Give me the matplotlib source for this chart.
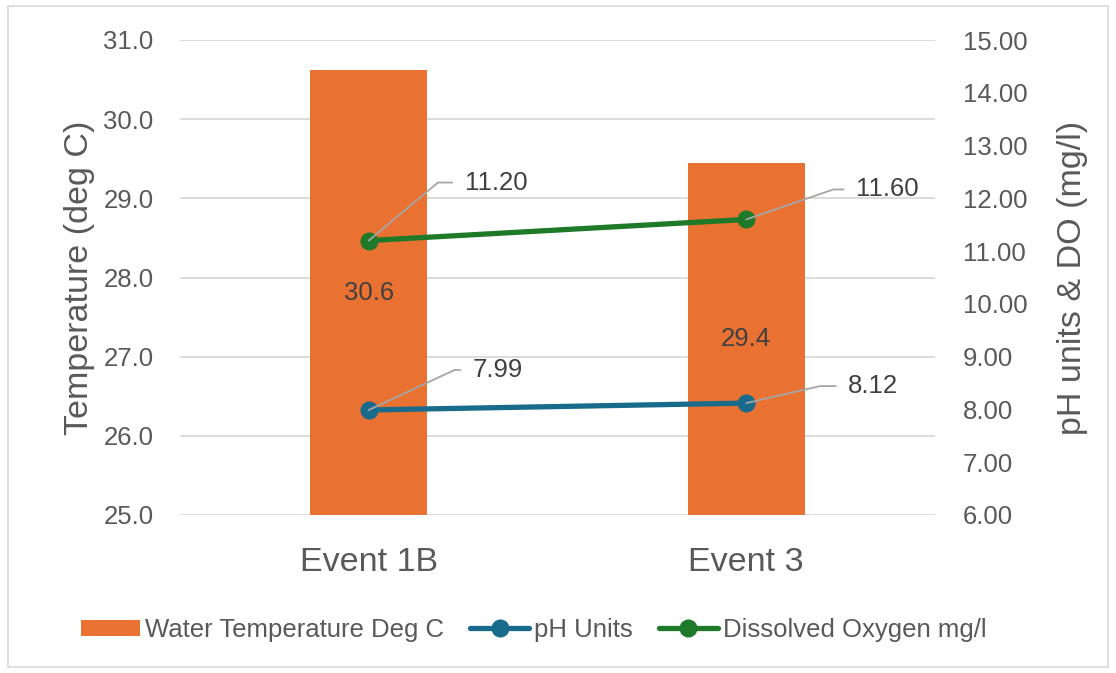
import matplotlib
matplotlib.use("Agg")
import matplotlib.pyplot as plt
from matplotlib.patches import Rectangle
from matplotlib import font_manager

categories = ["Event 1B", "Event 3"]
water_temp = [30.62, 29.45]
temp_labels = ["30.6", "29.4"]
ph_units = [7.99, 8.12]
dissolved_oxygen = [11.20, 11.60]
left_ticks = [25.0, 26.0, 27.0, 28.0, 29.0, 30.0, 31.0]
right_ticks = [6, 7, 8, 9, 10, 11, 12, 13, 14, 15]

ORANGE = "#E97132"
BLUE = "#196B8C"
GREEN = "#1E7A28"
TXT = "#595959"
DATA_TXT = "#404040"

names = {f.name for f in font_manager.fontManager.ttflist}
base_font = "Liberation Sans" if "Liberation Sans" in names else "DejaVu Sans"
plt.rcParams["font.family"] = [base_font, "DejaVu Sans"]

fig = plt.figure(figsize=(11.16, 6.73), dpi=100)
fig.patches.append(Rectangle((8/1116, 6/673), 1 - 16/1116, 1 - 12/673, transform=fig.transFigure,
                             fill=False, edgecolor="#D9D9D9", linewidth=1.2))

ax1 = fig.add_axes([180/1116, 1 - 515/673, 755/1116, 475/673])
ax2 = ax1.twinx()

x = list(range(len(categories)))
bars = ax1.bar(x, water_temp, width=0.31, bottom=0, color=ORANGE, zorder=2,
               label="Water Temperature Deg C")
ax1.set_ylim(25, 31)
ax1.set_xlim(-0.5, 1.5)
ax1.set_yticks(left_ticks)
ax1.set_yticklabels([f"{v:.1f}" for v in left_ticks])
ax1.yaxis.grid(True, color="#D9D9D9", linewidth=1.3, zorder=0)
ax1.set_axisbelow(True)
ax1.set_xticks(x)
ax1.set_xticklabels(categories, fontsize=24.5, color=TXT)
ax1.tick_params(axis="x", length=0, pad=23)
ax1.tick_params(axis="y", length=0, labelsize=18.5, labelcolor=TXT, pad=19)
ax1.set_ylabel("Temperature (deg C)", fontsize=24.5, color=TXT)
ax1.yaxis.set_label_coords(-0.113, 0.5)
for s in ax1.spines.values():
    s.set_visible(False)

for rect, lab in zip(bars, temp_labels):
    cy = 25 + (rect.get_height() - 25) / 2
    ax1.text(rect.get_x() + rect.get_width() / 2, cy, lab, ha="center", va="center",
             fontsize=18.5, color=DATA_TXT, zorder=3)

l1, = ax2.plot(x, ph_units, color=BLUE, linewidth=3.8, marker="o", markersize=12,
               label="pH Units", zorder=4, solid_capstyle="round")
l2, = ax2.plot(x, dissolved_oxygen, color=GREEN, linewidth=3.8, marker="o", markersize=12,
               label="Dissolved Oxygen mg/l", zorder=4, solid_capstyle="round")
ax2.set_ylim(6, 15)
ax2.set_yticks(right_ticks)
ax2.set_yticklabels([f"{v:.2f}" for v in right_ticks])
ax2.tick_params(axis="y", length=0, labelsize=18.5, labelcolor=TXT, pad=20)
ax2.set_ylabel("pH units & DO (mg/l)", fontsize=24.5, color=TXT)
ax2.yaxis.set_label_coords(1.162, 0.5)
for s in ax2.spines.values():
    s.set_visible(False)

def label(xv, yv, text, dx, dy, ang):
    ax2.annotate(text, xy=(xv, yv), xytext=(dx, dy), textcoords="offset pixels",
                 ha="left", va="center", fontsize=18.5, color=DATA_TXT, zorder=6,
                 arrowprops=dict(arrowstyle="-", color="#A6A6A6", lw=1.3,
                                 connectionstyle=f"angle,angleA=180,angleB={ang},rad=0",
                                 shrinkA=7, shrinkB=0, relpos=(0, 0.5)))

offsets_do = [(96, 58, 40), (110, 30, 19)]
offsets_ph = [(104, 40, 25), (102, 17, 13)]
for i in x:
    dx, dy, a = offsets_do[i]
    label(i, dissolved_oxygen[i], f"{dissolved_oxygen[i]:.2f}", dx, dy, a)
    dx, dy, a = offsets_ph[i]
    label(i, ph_units[i], f"{ph_units[i]:.2f}", dx, dy, a)

handles = [bars, l1, l2]
leg = fig.legend(handles, [h.get_label() for h in handles], loc="center",
                 bbox_to_anchor=(534/1116, 1 - 630/673), ncol=3, frameon=False,
                 prop={"size": 18.5}, handlelength=2.3, handleheight=0.6,
                 columnspacing=1.0, handletextpad=0.2)
for t in leg.get_texts():
    t.set_color(TXT)

fig.savefig("out.png", dpi=100)
